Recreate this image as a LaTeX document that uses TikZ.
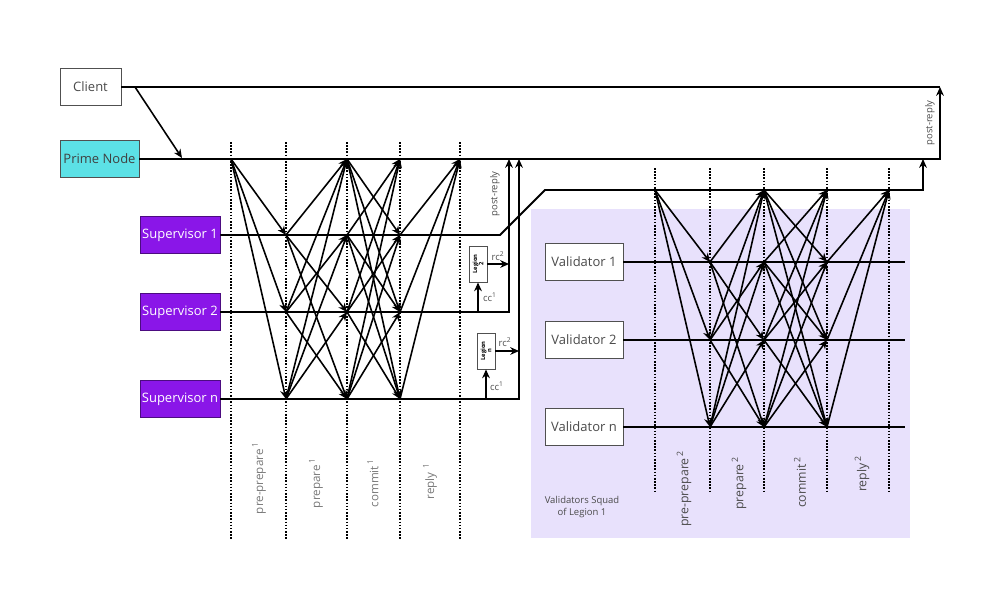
\documentclass[tikz,border=0pt]{standalone}
\usepackage{fontspec}
\setmainfont{Open Sans}
\usetikzlibrary{arrows.meta}

\definecolor{primecyan}{RGB}{92,225,230}
\definecolor{supviolet}{RGB}{138,22,232}
\definecolor{squadlilac}{RGB}{232,225,252}
\definecolor{boxgray}{RGB}{80,80,80}
\definecolor{textgray}{RGB}{75,75,75}
\definecolor{phasegray}{RGB}{120,120,120}

\begin{document}
\begin{tikzpicture}[x=0.02cm, y=-0.02cm,
  box/.style={draw=boxgray, line width=0.5pt, inner sep=0pt, minimum height=0.74cm, text=textgray, font=\fontsize{7.4}{8}\selectfont},
  clientbox/.style={box, fill=white, minimum width=1.22cm},
  primebox/.style={box, fill=primecyan, minimum width=1.58cm, text=black!75},
  supbox/.style={box, fill=supviolet, draw=supviolet!55!black, minimum width=1.6cm, text=white},
  valbox/.style={box, fill=white, minimum width=1.56cm},
  legionbox/.style={draw=boxgray, line width=0.5pt, fill=white, inner sep=0pt, rotate=90, minimum width=0.72cm, minimum height=0.36cm, align=center, font=\fontsize{3.3}{3.6}\selectfont\bfseries},
  wire/.style={line width=1.1pt},
  msg/.style={line width=0.9pt, -{Stealth[length=5pt, width=4.4pt]}},
  phaseline/.style={line width=1.2pt, dash pattern=on 0.9pt off 0.9pt},
  thinphaseline/.style={line width=0.7pt, dash pattern=on 0.9pt off 0.9pt},
  phaselabel/.style={rotate=90, text=phasegray, inner sep=0pt, font=\fontsize{6.6}{7}\selectfont},
  squadlabel/.style={rotate=90, text=textgray, inner sep=0pt, font=\fontsize{7}{8}\selectfont},
  smalllabel/.style={text=textgray, inner sep=0pt, font=\fontsize{5.4}{6.5}\selectfont}
]
\useasboundingbox (0, 0) rectangle (1000, 600);

% Validators squad background
\fill[squadlilac] (531, 209) rectangle (910, 538);

% Phase columns, first round
\coordinate (a0) at (231, 142);
\coordinate (a1) at (286, 142);
\coordinate (a2) at (347, 142);
\coordinate (a3) at (400, 142);
\coordinate (a4) at (460, 142);
\draw[phaseline] (a0) -- ++(0, 398);
\draw[phaseline] (a1) -- ++(0, 398);
\draw[phaseline] (a2) -- ++(0, 398);
\draw[phaseline] (a3) -- ++(0, 398);
\draw[phaseline] (a4) -- ++(0, 398);

% Phase columns, second round
\coordinate (b0) at (655, 168);
\coordinate (b1) at (710, 168);
\coordinate (b2) at (764, 168);
\coordinate (b3) at (827, 168);
\coordinate (b4) at (889, 168);
\draw[thinphaseline] (b0) -- ++(0, 324);
\draw[thinphaseline] (b1) -- ++(0, 324);
\draw[thinphaseline] (b2) -- ++(0, 324);
\draw[thinphaseline] (b3) -- ++(0, 324);
\draw[thinphaseline] (b4) -- ++(0, 324);

% Participants
\node[clientbox] (client) at (90.5, 87) {Client};
\node[primebox] (prime) at (99.5, 159) {Prime Node};
\node[supbox] (sup1) at (180, 235) {Supervisor 1};
\node[supbox] (sup2) at (180, 312) {Supervisor 2};
\node[supbox] (supn) at (180, 399) {Supervisor n};
\node[valbox] (val1) at (584, 262) {Validator 1};
\node[valbox] (val2) at (584, 340) {Validator 2};
\node[valbox] (valn) at (584, 427) {Validator n};

% Turning points of the time lines
\coordinate (cr) at (940, 87);
\coordinate (pr) at (940, 159);
\coordinate (req) at (135, 87);
\coordinate (reqend) at (182, 158);
\coordinate (s1bend) at (500, 235);
\coordinate (legion) at (545, 190);
\coordinate (legend) at (923, 190);
\coordinate (s2bend) at (509, 312);
\coordinate (snbend) at (519, 399);
\coordinate (vend) at (905, 0);

% Time lines
\draw[wire] (client.east) -- (cr);
\draw[wire, -{Stealth[length=5pt, width=4.4pt]}] (prime.east) -- (pr) -- (cr);
\draw[msg] (req) -- (reqend);
\draw[wire, -{Stealth[length=5pt, width=4.4pt]}] (sup1.east) -- (s1bend) -- (legion) -- (legend) -- (legend |- prime);
\draw[wire, -{Stealth[length=5pt, width=4.4pt]}] (sup2.east) -- (s2bend) -- (s2bend |- prime);
\draw[wire, -{Stealth[length=5pt, width=4.4pt]}] (supn.east) -- (snbend) -- (snbend |- prime);
\draw[wire] (val1.east) -- (vend |- val1);
\draw[wire] (val2.east) -- (vend |- val2);
\draw[wire] (valn.east) -- (vend |- valn);

% Legions (rotated: west is the bottom side, south the right side)
\node[legionbox] (legion2) at (478, 264) {Legion\\2};
\node[legionbox] (legionn) at (486, 351) {Legion\\n};
\draw[msg] (legion2.west |- sup2) -- (legion2.west);
\draw[msg] (legion2.south) -- (legion2.south -| s2bend);
\draw[msg] (legionn.west |- supn) -- (legionn.west);
\draw[msg] (legionn.south) -- (legionn.south -| snbend);
\node[smalllabel] (cc2) at (490, 297) {cc\textsuperscript{1}};
\node[smalllabel] (rc2) at (498, 256) {rc\textsuperscript{2}};
\node[smalllabel] (ccn) at (497, 386) {cc\textsuperscript{1}};
\node[smalllabel] (rcn) at (505, 342) {rc\textsuperscript{2}};

% First round messages
\path (a0 |- prime) edge[msg] (a1 |- sup1) edge[msg] (a1 |- sup2) edge[msg] (a1 |- supn);
\path (a1 |- sup1) edge[msg] (a2 |- prime) edge[msg] (a2 |- sup2) edge[msg] (a2 |- supn);
\path (a1 |- sup2) edge[msg] (a2 |- prime) edge[msg] (a2 |- sup1) edge[msg] (a2 |- supn);
\path (a1 |- supn) edge[msg] (a2 |- prime) edge[msg] (a2 |- sup1) edge[msg] (a2 |- sup2);
\path (a2 |- prime) edge[msg] (a3 |- sup1) edge[msg] (a3 |- sup2) edge[msg] (a3 |- supn);
\path (a2 |- sup1) edge[msg] (a3 |- prime) edge[msg] (a3 |- sup2) edge[msg] (a3 |- supn);
\path (a2 |- sup2) edge[msg] (a3 |- prime) edge[msg] (a3 |- sup1) edge[msg] (a3 |- supn);
\path (a2 |- supn) edge[msg] (a3 |- prime) edge[msg] (a3 |- sup1) edge[msg] (a3 |- sup2);
\path (a3 |- sup1) edge[msg] (a4 |- prime);
\path (a3 |- sup2) edge[msg] (a4 |- prime);
\path (a3 |- supn) edge[msg] (a4 |- prime);

% Second round messages
\path (b0 |- legion) edge[msg] (b1 |- val1) edge[msg] (b1 |- val2) edge[msg] (b1 |- valn);
\path (b1 |- val1) edge[msg] (b2 |- legion) edge[msg] (b2 |- val2) edge[msg] (b2 |- valn);
\path (b1 |- val2) edge[msg] (b2 |- legion) edge[msg] (b2 |- val1) edge[msg] (b2 |- valn);
\path (b1 |- valn) edge[msg] (b2 |- legion) edge[msg] (b2 |- val1) edge[msg] (b2 |- val2);
\path (b2 |- legion) edge[msg] (b3 |- val1) edge[msg] (b3 |- val2) edge[msg] (b3 |- valn);
\path (b2 |- val1) edge[msg] (b3 |- legion) edge[msg] (b3 |- val2) edge[msg] (b3 |- valn);
\path (b2 |- val2) edge[msg] (b3 |- legion) edge[msg] (b3 |- val1) edge[msg] (b3 |- valn);
\path (b2 |- valn) edge[msg] (b3 |- legion) edge[msg] (b3 |- val1) edge[msg] (b3 |- val2);
\path (b3 |- val1) edge[msg] (b4 |- legion);
\path (b3 |- val2) edge[msg] (b4 |- legion);
\path (b3 |- valn) edge[msg] (b4 |- legion);

% Phase names
\node[phaselabel] (pp1) at (259, 478) {pre-prepare\,\textsuperscript{1}};
\node[phaselabel] (pr1) at (316, 483) {prepare\,\textsuperscript{1}};
\node[phaselabel] (cm1) at (373, 483) {commit\,\textsuperscript{1}};
\node[phaselabel] (rp1) at (430, 481) {reply\,\,\textsuperscript{1}};
\node[squadlabel, anchor=east] (pp2) at (684, 450) {pre-prepare\,\textsuperscript{2}};
\node[squadlabel, anchor=east] (pr2) at (739, 456) {prepare\,\textsuperscript{2}};
\node[squadlabel, anchor=east] (cm2) at (800, 456) {commit\,\textsuperscript{2}};
\node[squadlabel, anchor=east] (rp2) at (862, 455) {reply\,\textsuperscript{2}};
\node[smalllabel, rotate=90] (post1) at (495, 194) {post-reply};
\node[smalllabel, rotate=90] (post2) at (930, 123) {post-reply};
\node[smalllabel, align=center] (squad) at (582, 507) {Validators Squad\\of Legion 1};
\end{tikzpicture}
\end{document}
